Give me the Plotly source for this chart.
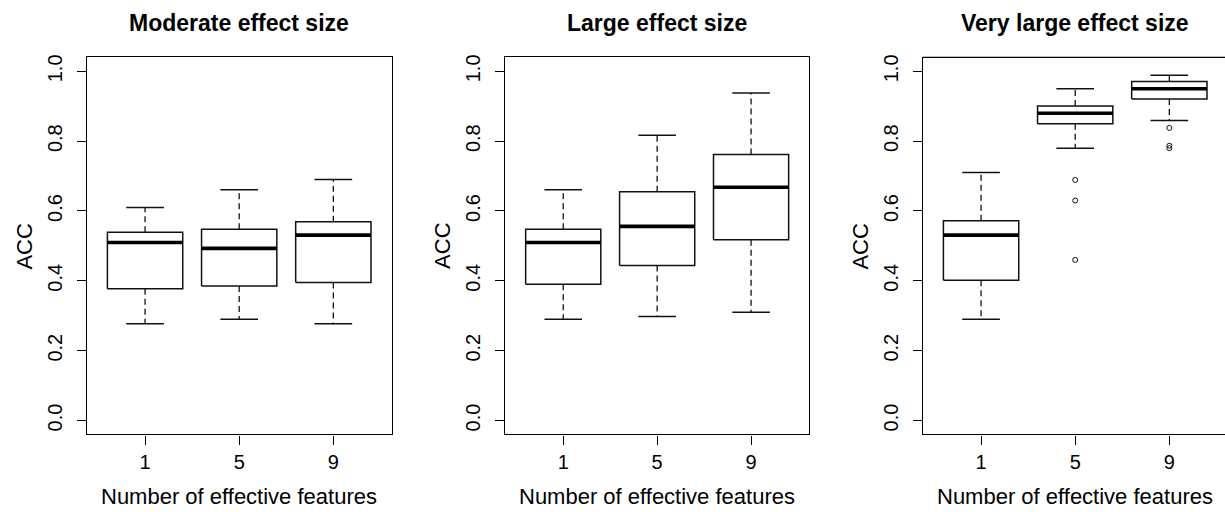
import plotly.graph_objects as go

# ---------------- data ----------------
panel_titles = ["Moderate effect size", "Large effect size", "Very large effect size"]
categories = ["1", "5", "9"]

# per panel: values for categories 1, 5, 9
whisker_low = [[0.277, 0.290, 0.277],
               [0.290, 0.298, 0.310],
               [0.290, 0.780, 0.859]]
q1 = [[0.377, 0.385, 0.395],
      [0.390, 0.444, 0.518],
      [0.402, 0.850, 0.921]]
median = [[0.510, 0.493, 0.531],
          [0.510, 0.556, 0.668],
          [0.531, 0.880, 0.950]]
q3 = [[0.539, 0.548, 0.569],
      [0.548, 0.655, 0.762],
      [0.572, 0.901, 0.971]]
whisker_high = [[0.610, 0.661, 0.690],
                [0.661, 0.817, 0.938],
                [0.710, 0.950, 0.989]]
outliers = [[[], [], []],
            [[], [], []],
            [[], [0.689, 0.630, 0.460], [0.838, 0.787, 0.780]]]

y_ticks = [0.0, 0.2, 0.4, 0.6, 0.8, 1.0]
x_label = "Number of effective features"
y_label = "ACC"

# ---------------- layout geometry (pixels) ----------------
W, H = 1225, 512
panel_px = [(86.7, 391.7), (505.0, 809.3), (922.7, 1227.7)]
top_px, bottom_px = 54.7, 434.0
box_half = 0.4
cap_half = 0.2
FONT = "Liberation Sans, Arial, sans-serif"
LINE = "#111111"

def px_x(v):
    return v / W

def px_y(v):
    return (H - v) / H

fig = go.Figure()
annotations = []
shapes = []

for p in range(3):
    xa = "x" if p == 0 else f"x{p+1}"
    ya = "y" if p == 0 else f"y{p+1}"
    for c in range(3):
        pos = c + 1
        # whiskers (dashed)
        fig.add_trace(go.Scatter(x=[pos, pos], y=[q3[p][c], whisker_high[p][c]], mode="lines",
                                 line=dict(color=LINE, width=1.3, dash="6px,4px"),
                                 xaxis=xa, yaxis=ya, showlegend=False, hoverinfo="skip"))
        fig.add_trace(go.Scatter(x=[pos, pos], y=[q1[p][c], whisker_low[p][c]], mode="lines",
                                 line=dict(color=LINE, width=1.3, dash="6px,4px"),
                                 xaxis=xa, yaxis=ya, showlegend=False, hoverinfo="skip"))
        # staples
        for v in (whisker_high[p][c], whisker_low[p][c]):
            fig.add_trace(go.Scatter(x=[pos - cap_half, pos + cap_half], y=[v, v], mode="lines",
                                     line=dict(color=LINE, width=1.5),
                                     xaxis=xa, yaxis=ya, showlegend=False, hoverinfo="skip"))
        # box
        fig.add_trace(go.Scatter(
            x=[pos - box_half, pos + box_half, pos + box_half, pos - box_half, pos - box_half],
            y=[q1[p][c], q1[p][c], q3[p][c], q3[p][c], q1[p][c]],
            mode="lines", fill="toself", fillcolor="white",
            line=dict(color=LINE, width=1.5),
            xaxis=xa, yaxis=ya, showlegend=False, hoverinfo="skip"))
        # median
        fig.add_trace(go.Scatter(x=[pos - box_half, pos + box_half], y=[median[p][c], median[p][c]],
                                 mode="lines", line=dict(color="black", width=3.6),
                                 xaxis=xa, yaxis=ya, showlegend=False, hoverinfo="skip"))
        # outliers
        if outliers[p][c]:
            fig.add_trace(go.Scatter(x=[pos] * len(outliers[p][c]), y=outliers[p][c], mode="markers",
                                     marker=dict(symbol="circle-open", size=5, color=LINE,
                                                 line=dict(width=1, color=LINE)),
                                     xaxis=xa, yaxis=ya, showlegend=False, hoverinfo="skip"))

    left, right = panel_px[p]
    ppu = (right - left) / 3.24
    visible_right = min(right, W)
    x_range = [0.38, 0.38 + (visible_right - left) / ppu]
    dom_x = [px_x(left), px_x(visible_right)]
    dom_y = [px_y(bottom_px), px_y(top_px)]
    ax_common = dict(showgrid=False, zeroline=False, showline=True, linecolor="black",
                     linewidth=1.3, ticks="outside", ticklen=9, tickwidth=1.3,
                     tickcolor="black", tickfont=dict(family=FONT, size=20, color="black"))
    fig.layout[f"xaxis{'' if p == 0 else p+1}"] = dict(
        ax_common, domain=dom_x, range=x_range, anchor=ya,
        tickvals=[1, 2, 3], ticktext=categories, mirror=(p < 2), ticklabelstandoff=0)
    fig.layout[f"yaxis{'' if p == 0 else p+1}"] = dict(
        ax_common, domain=dom_y, range=[-0.04, 1.04], anchor=xa,
        tickvals=y_ticks, ticktext=[f"{v:.1f}" for v in y_ticks], tickangle=-90,
        mirror=(p < 2), ticklabelstandoff=7)
    if p == 2:
        shapes.append(dict(type="line", xref="paper", yref="paper",
                           x0=px_x(left), x1=px_x(W + 5), y0=px_y(top_px), y1=px_y(top_px),
                           line=dict(color="black", width=1.3)))

    center = (left + right) / 2
    annotations.append(dict(text=f"<b>{panel_titles[p]}</b>", x=px_x(center), y=px_y(20),
                            xref="paper", yref="paper", showarrow=False, xanchor="center",
                            yanchor="middle", font=dict(family=FONT, size=23, color="black")))
    annotations.append(dict(text=x_label, x=px_x(center), y=px_y(496),
                            xref="paper", yref="paper", showarrow=False, xanchor="center",
                            yanchor="middle", font=dict(family=FONT, size=22, color="black")))
    annotations.append(dict(text=y_label, x=px_x(left - 62), y=px_y((top_px + bottom_px) / 2),
                            xref="paper", yref="paper", showarrow=False, xanchor="center",
                            yanchor="middle", textangle=-90,
                            font=dict(family=FONT, size=22, color="black")))

fig.update_layout(width=W, height=H, margin=dict(l=0, r=0, t=0, b=0),
                  paper_bgcolor="white", plot_bgcolor="white",
                  annotations=annotations, shapes=shapes, showlegend=False)

fig.write_html("out.html", config={"displayModeBar": False},
               post_script="document.body.style.margin='0';document.body.style.padding='0';"
                           "document.documentElement.style.overflow='hidden';")
